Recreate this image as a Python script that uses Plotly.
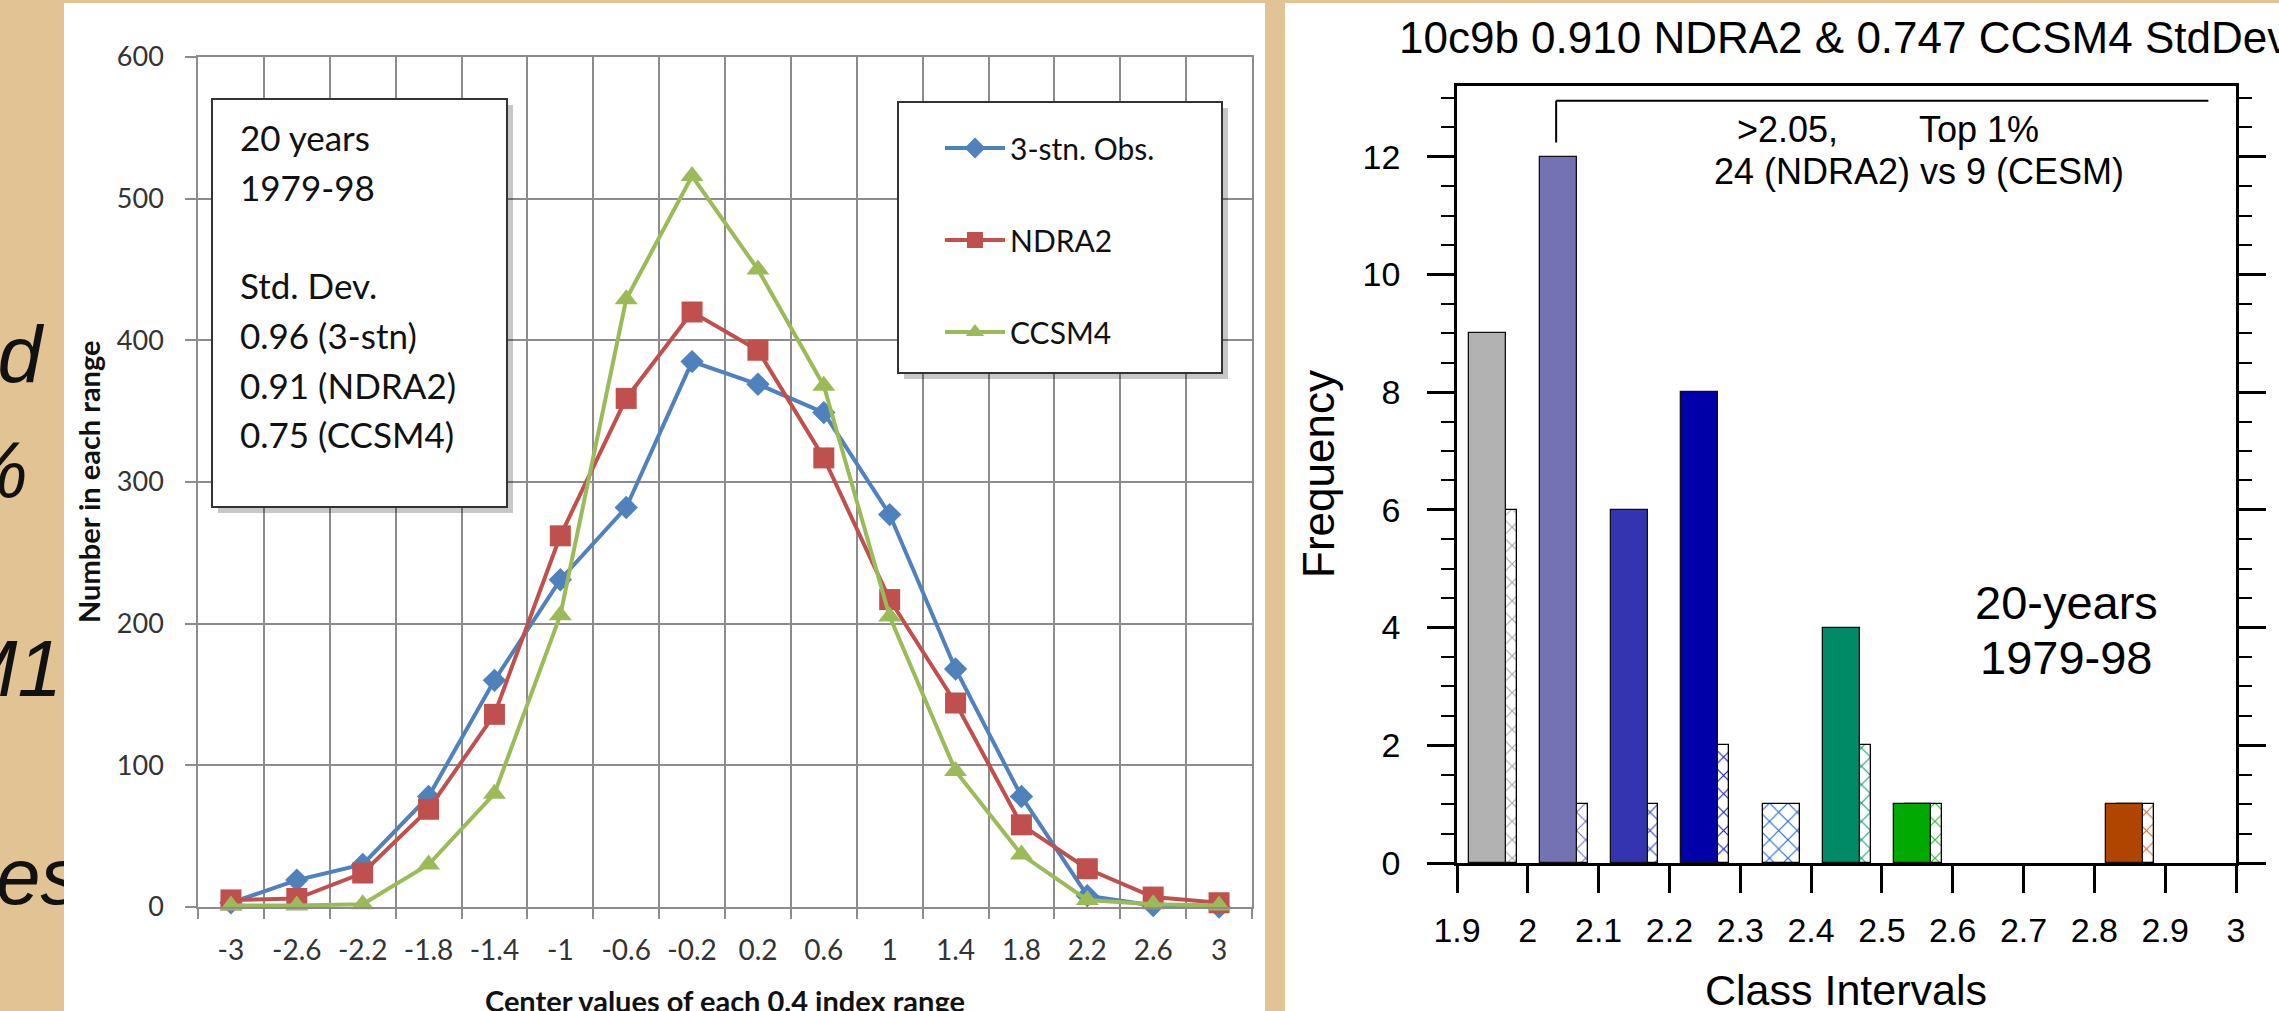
import plotly.graph_objects as go

W, H = 2279, 1011

# ---------------- Left chart data (Excel line chart) ----------------
centers = ["-3", "-2.6", "-2.2", "-1.8", "-1.4", "-1", "-0.6", "-0.2",
           "0.2", "0.6", "1", "1.4", "1.8", "2.2", "2.6", "3"]
obs_3stn = [3, 19, 30, 78, 160, 231, 282, 385, 369, 349, 277, 168, 78, 8, 1, 0]
ndra2 = [5, 6, 24, 69, 136, 262, 359, 420, 393, 317, 217, 144, 58, 27, 7, 3]
ccsm4 = [1, 1, 2, 30, 80, 206, 429, 516, 450, 368, 205, 96, 37, 5, 2, 1]
series_names = ["3-stn. Obs.", "NDRA2", "CCSM4"]
box_lines = ["20 years", "1979-98", "", "Std. Dev.", "0.96 (3-stn)", "0.91 (NDRA2)", "0.75 (CCSM4)"]

# ---------------- Right chart data (NCL histogram) ----------------
class_starts = [1.9, 2.0, 2.1, 2.2, 2.3, 2.4, 2.5, 2.6, 2.7, 2.8, 2.9]
ndra2_freq = [9, 12, 6, 8, 0, 4, 1, 0, 0, 1, 0]
ccsm4_freq = [6, 1, 1, 2, 1, 2, 1, 0, 0, 1, 0]
solid_colors = ["#B2B2B2", "#7373B3", "#3434B0", "#0000AA", "#1E5FC8", "#008A66",
                "#00AA00", "#00C000", "#808000", "#B04500", "#C00000"]
hatch_colors = ["#A8A8A8", "#6F6FC4", "#3A3AC8", "#1A1AC4", "#1F66D2", "#129A78",
                "#22BB22", "#22BB22", "#808000", "#D26A30", "#C00000"]
x_ticks_right = [1.9, 2.0, 2.1, 2.2, 2.3, 2.4, 2.5, 2.6, 2.7, 2.8, 2.9, 3.0]
x_ticktext_right = ["1.9", "2", "2.1", "2.2", "2.3", "2.4", "2.5", "2.6", "2.7", "2.8", "2.9", "3"]

# slide text fragments peeking out at the left edge
frag_text = ["d", "%", "M1", "esa"]

LFONT = "Lato, Carlito, Calibri, sans-serif"
RFONT = "Liberation Sans, Arial, Helvetica, sans-serif"


def px(x):
    return x / W


def py(y):
    return 1 - y / H


fig = go.Figure()

# ---- left chart traces ----
left_cols = ["#4F81BD", "#C0504D", "#9BBB59"]
left_syms = ["diamond", "square", "triangle-up"]
left_sizes = [18, 21, 20]
for i, (nm, vals) in enumerate(zip(series_names, [obs_3stn, ndra2, ccsm4])):
    fig.add_trace(go.Scatter(
        x=centers, y=vals, name=nm, mode="lines+markers",
        line=dict(color=left_cols[i], width=4),
        marker=dict(symbol=left_syms[i], size=left_sizes[i], color=left_cols[i]),
        legendgroup=nm, xaxis="x", yaxis="y", cliponaxis=False))

# ---- right chart traces ----
bar_w = 0.052
fig.add_trace(go.Bar(
    x=[s + 0.0585 for s in class_starts], y=ccsm4_freq, width=bar_w,
    marker=dict(color=hatch_colors,
                line=dict(color="black", width=[1.3 if v > 0 else 0 for v in ccsm4_freq]),
                pattern=dict(shape="x", fillmode="replace", bgcolor="white",
                             size=13, solidity=0.16)),
    showlegend=False, xaxis="x2", yaxis="y2"))
fig.add_trace(go.Bar(
    x=[s + 0.043 for s in class_starts], y=ndra2_freq, width=bar_w,
    marker=dict(color=solid_colors,
                line=dict(color="#111111", width=[1.3 if v > 0 else 0 for v in ndra2_freq])),
    showlegend=False, xaxis="x2", yaxis="y2"))

# ---- text fragments (clipped to the strip left of the white panel) ----
fig.add_trace(go.Scatter(
    x=[42, 28, 62, -4], y=[362, 478, 676, 884], text=frag_text, mode="text",
    textposition=["middle left", "middle left", "middle left", "middle right"],
    textfont=dict(family="Liberation Sans, Arial", size=80, color="#111111",
                  style="italic"),
    showlegend=False, xaxis="x3", yaxis="y3", cliponaxis=True, hoverinfo="skip"))

shapes = []
# white panels
shapes.append(dict(type="rect", xref="paper", yref="paper", x0=px(64), x1=px(1265),
                   y0=py(1011), y1=py(3), fillcolor="white", line=dict(width=0), layer="below"))
shapes.append(dict(type="rect", xref="paper", yref="paper", x0=px(1285), x1=px(2279),
                   y0=py(1011), y1=py(3), fillcolor="white", line=dict(width=0), layer="below"))
# text box + legend box with shadows
for (x0, y0, x1, y1) in [(212, 99, 507, 507), (898, 102, 1222, 373)]:
    shapes.append(dict(type="rect", xref="paper", yref="paper", x0=px(x0 + 6), x1=px(x1 + 6),
                       y0=py(y1 + 6), y1=py(y0 + 6), fillcolor="rgba(0,0,0,0.22)",
                       line=dict(width=0), layer="above"))
    shapes.append(dict(type="rect", xref="paper", yref="paper", x0=px(x0), x1=px(x1),
                       y0=py(y1), y1=py(y0), fillcolor="white",
                       line=dict(color="#333333", width=2), layer="above"))
# bracket on right chart
shapes.append(dict(type="line", xref="x2", yref="y2", x0=2.04, x1=2.04, y0=12.24, y1=12.95,
                   line=dict(color="black", width=2)))
shapes.append(dict(type="line", xref="x2", yref="y2", x0=2.04, x1=2.961, y0=12.95, y1=12.95,
                   line=dict(color="black", width=2)))

annotations = []
# left text box lines
for k, t in enumerate(box_lines):
    if t:
        annotations.append(dict(xref="paper", yref="paper", x=px(238), y=py(137 + 49.5 * k),
                                text=t, showarrow=False, xanchor="left", yanchor="middle",
                                font=dict(family=LFONT, size=35, color="#111111")))
# left axis titles
annotations.append(dict(xref="paper", yref="paper", x=px(89), y=py(482), text="<b>Number in each range</b>",
                        showarrow=False, textangle=-90, xanchor="center", yanchor="middle",
                        font=dict(family=LFONT, size=29, color="#111111")))
annotations.append(dict(xref="paper", yref="paper", x=px(725), y=py(1000),
                        text="<b>Center values of each 0.4 index range</b>",
                        showarrow=False, xanchor="center", yanchor="middle",
                        font=dict(family=LFONT, size=29, color="#111111")))
# right chart texts
annotations.append(dict(xref="paper", yref="paper", x=px(1397), y=py(37),
                        text="10c9b 0.910 NDRA2 &amp; 0.747 CCSM4 StdDev",
                        showarrow=False, xanchor="left", yanchor="middle",
                        font=dict(family=RFONT, size=44, color="black")))
annotations.append(dict(xref="paper", yref="paper", x=px(1318), y=py(474), text="Frequency",
                        showarrow=False, textangle=-90, xanchor="center", yanchor="middle",
                        font=dict(family=RFONT, size=44, color="black")))
annotations.append(dict(xref="paper", yref="paper", x=px(1846), y=py(990), text="Class Intervals",
                        showarrow=False, xanchor="center", yanchor="middle",
                        font=dict(family=RFONT, size=43, color="black")))
annotations.append(dict(xref="paper", yref="paper", x=px(1735), y=py(130), text="&gt;2.05,",
                        showarrow=False, xanchor="left", yanchor="middle",
                        font=dict(family=RFONT, size=36, color="black")))
annotations.append(dict(xref="paper", yref="paper", x=px(1917), y=py(130), text="Top 1%",
                        showarrow=False, xanchor="left", yanchor="middle",
                        font=dict(family=RFONT, size=36, color="black")))
annotations.append(dict(xref="paper", yref="paper", x=px(1919), y=py(172),
                        text="24 (NDRA2) vs 9 (CESM)",
                        showarrow=False, xanchor="center", yanchor="middle",
                        font=dict(family=RFONT, size=36, color="black")))
annotations.append(dict(xref="paper", yref="paper", x=px(2066), y=py(602), text="20-years",
                        showarrow=False, xanchor="center", yanchor="middle",
                        font=dict(family=RFONT, size=47, color="black")))
annotations.append(dict(xref="paper", yref="paper", x=px(2066), y=py(657), text="1979-98",
                        showarrow=False, xanchor="center", yanchor="middle",
                        font=dict(family=RFONT, size=47, color="black")))

GRID = "#8C8C8C"
fig.update_layout(
    width=W, height=H,
    margin=dict(l=0, r=0, t=0, b=0, pad=0, autoexpand=False),
    paper_bgcolor="#E2C393",
    plot_bgcolor="rgba(0,0,0,0)",
    barmode="overlay",
    bargap=0,
    shapes=shapes,
    annotations=annotations,
    showlegend=True,
    legend=dict(x=px(940), y=py(122), xanchor="left", yanchor="top",
                bgcolor="rgba(0,0,0,0)", borderwidth=0,
                font=dict(family=LFONT, size=30, color="#111111"),
                traceorder="grouped", tracegroupgap=50, itemwidth=60),
    xaxis=dict(domain=[px(198), px(1252)], type="category", range=[-0.5, 15.5],
               tickson="boundaries", ticks="outside", ticklen=10, tickcolor=GRID, tickwidth=1.6,
               showgrid=True, gridcolor=GRID, gridwidth=1.6,
               showline=True, linecolor=GRID, linewidth=1.6, mirror=True,
               tickfont=dict(family=LFONT, size=28, color="#333333"), ticklabelstandoff=18,
               zeroline=False, anchor="y", automargin=False),
    yaxis=dict(domain=[py(907), py(57)], range=[0, 600], dtick=100,
               ticks="outside", ticklen=11, tickcolor=GRID, tickwidth=1.6,
               showgrid=True, gridcolor=GRID, gridwidth=1.6,
               showline=True, linecolor=GRID, linewidth=1.6, mirror=True,
               tickfont=dict(family=LFONT, size=27, color="#333333"), ticklabelstandoff=16,
               zeroline=False, anchor="x", automargin=False),
    xaxis2=dict(domain=[px(1457), px(2236)], range=[1.9, 3.0],
                tickvals=x_ticks_right, ticktext=x_ticktext_right,
                ticks="outside", ticklen=27, tickwidth=2.5, tickcolor="black",
                showgrid=False, zeroline=False,
                showline=True, linecolor="black", linewidth=2.5, mirror=True,
                tickfont=dict(family=RFONT, size=34, color="black"), ticklabelstandoff=8,
                anchor="y2", automargin=False),
    yaxis2=dict(domain=[py(863), py(86)], range=[0, 13.2],
                tickvals=[0, 2, 4, 6, 8, 10, 12],
                ticks="outside", ticklen=27, tickwidth=2.5, tickcolor="black",
                minor=dict(dtick=0.5, ticks="outside", ticklen=13, tickwidth=2, tickcolor="black",
                           showgrid=False),
                showgrid=False, zeroline=False,
                showline=True, linecolor="black", linewidth=2.5, mirror="ticks",
                tickfont=dict(family=RFONT, size=34, color="black"), ticklabelstandoff=20,
                anchor="x2", automargin=False),
    xaxis3=dict(domain=[0, px(64)], range=[0, 64], visible=False, anchor="y3", automargin=False),
    yaxis3=dict(domain=[0, 1], range=[1011, 0], visible=False, anchor="x3", automargin=False),
)

fig.write_html("out.html", config={"displayModeBar": False},
               post_script="document.body.style.margin='0px';document.body.style.overflow='hidden';")
